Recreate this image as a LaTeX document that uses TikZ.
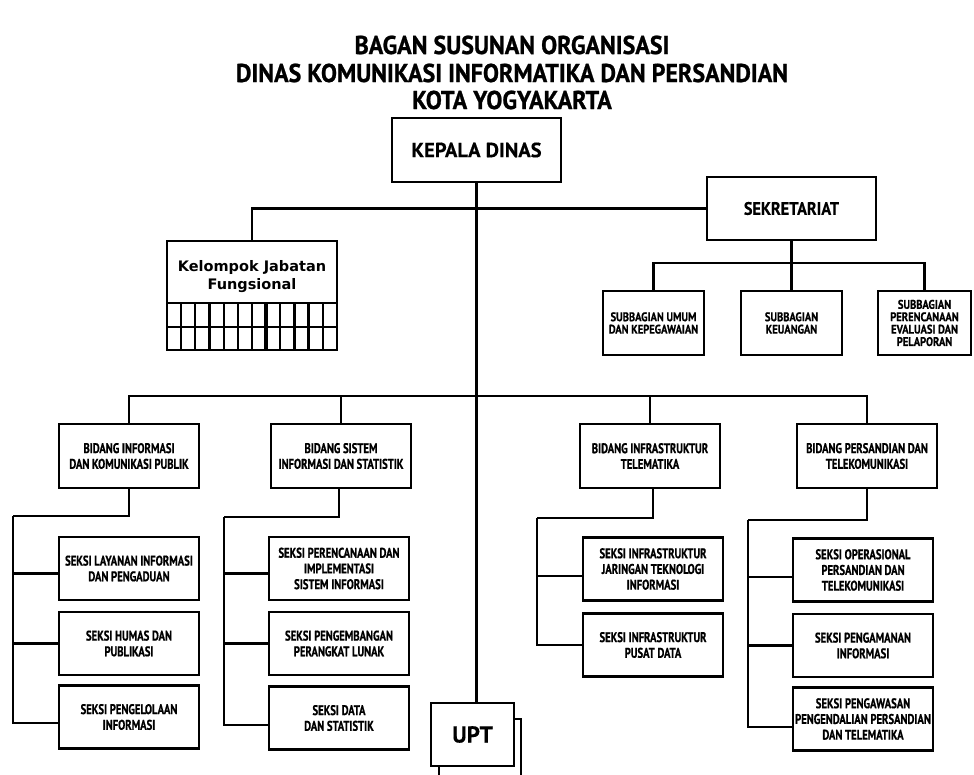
\documentclass[tikz,border=0pt]{standalone}
\usepackage{fontspec}
\setmainfont{PT Sans}[BoldFeatures={FakeBold=0.4}]
\newfontfamily\ptcond{PT Sans}[FakeStretch=0.76,BoldFeatures={FakeBold=0.7}]
\newfontfamily\ptsub{PT Sans}[FakeStretch=0.84,BoldFeatures={FakeBold=0.6}]
\newfontfamily\pttitle{PT Sans}[FakeStretch=0.93,BoldFeatures={FakeBold=0.9}]
\newfontfamily\ptsemi{PT Sans}[FakeStretch=0.9,BoldFeatures={FakeBold=0.4}]
\newfontfamily\dvsans{DejaVu Sans}
\newcommand\fSeksi{\ptcond\bfseries\fontsize{14}{15.7}\selectfont}
\newcommand\fSub{\ptsub\bfseries\fontsize{12.5}{12.4}\selectfont}
\newcommand\fTitle{\pttitle\bfseries\fontsize{25.8}{28}\selectfont}
\newcommand\fKepala{\bfseries\fontsize{20.5}{22}\selectfont}
\newcommand\fSek{\ptsemi\bfseries\fontsize{18}{20}\selectfont}
\newcommand\fUpt{\bfseries\fontsize{23}{26}\selectfont}
\newcommand\fKjf{\dvsans\bfseries\fontsize{14.5}{18}\selectfont}
\begin{document}
\begin{tikzpicture}[x=1pt,y=-1pt,line width=2.2pt,
  box/.style={draw,fill=white,rectangle,inner sep=0pt,align=center},
  bid/.style={box,minimum width=140pt,minimum height=64pt,font=\fSeksi},
  sek/.style={box,minimum width=140pt,minimum height=63pt,font=\fSeksi},
  sub/.style={box,minimum width=101pt,minimum height=64pt,font=\fSub},
  ttl/.style={inner sep=0pt,font=\fTitle}]
\useasboundingbox[fill=white] (0,0) rectangle (974,775);

% title
\node[ttl] (t1) at (512,45) {BAGAN SUSUNAN ORGANISASI};
\node[ttl] (t2) at (512,73) {DINAS KOMUNIKASI INFORMATIKA DAN PERSANDIAN};
\node[ttl] (t3) at (512,100) {KOTA YOGYAKARTA};

% UPT back box
\node[box,minimum width=82pt,minimum height=66pt] (uptb) at (480,752) {};

% top
\node[box,minimum width=169pt,minimum height=64pt,font=\fKepala] (kepala) at (476.5,150) {KEPALA DINAS};
\node[box,minimum width=169pt,minimum height=63pt,font=\fSek] (sekr) at (791.5,208.5) {SEKRETARIAT};
\node[box,minimum width=170pt,minimum height=109pt] (kjf) at (252,295.5) {};
\node[inner sep=0pt,align=center,font=\fKjf] (kjft) at (252,277) {Kelompok Jabatan\\Fungsional};

% subbagian
\node[sub] (sub1) at (653.5,323) {SUBBAGIAN UMUM\\DAN KEPEGAWAIAN};
\node[sub] (sub2) at (791.5,323) {SUBBAGIAN\\KEUANGAN};
\node[sub,minimum width=93pt] (sub3) at (924.5,323) {SUBBAGIAN\\PERENCANAAN\\EVALUASI DAN\\PELAPORAN};

% bidang
\node[bid] (b1) at (129,456) {BIDANG INFORMASI\\DAN KOMUNIKASI PUBLIK};
\node[bid] (b2) at (341,456) {BIDANG SISTEM\\INFORMASI DAN STATISTIK};
\node[bid] (b3) at (650,456) {BIDANG INFRASTRUKTUR\\TELEMATIKA};
\node[bid] (b4) at (867,456) {BIDANG PERSANDIAN DAN\\TELEKOMUNIKASI};

% seksi
\node[sek] (s11) at (129,568.5) {SEKSI LAYANAN INFORMASI\\DAN PENGADUAN};
\node[sek] (s12) at (129,643.5) {SEKSI HUMAS DAN\\PUBLIKASI};
\node[sek] (s13) at (129,717) {SEKSI PENGELOLAAN\\INFORMASI};
\node[sek] (s21) at (339,568.5) {SEKSI PERENCANAAN DAN\\IMPLEMENTASI\\SISTEM INFORMASI};
\node[sek] (s22) at (339,643.5) {SEKSI PENGEMBANGAN\\PERANGKAT LUNAK};
\node[sek] (s23) at (339,718) {SEKSI DATA\\DAN STATISTIK};
\node[sek] (s31) at (653,569) {SEKSI INFRASTRUKTUR\\JARINGAN TEKNOLOGI\\INFORMASI};
\node[sek] (s32) at (653,645) {SEKSI INFRASTRUKTUR\\PUSAT DATA};
\node[sek] (s41) at (863,570) {SEKSI OPERASIONAL\\PERSANDIAN DAN\\TELEKOMUNIKASI};
\node[sek] (s42) at (863,645.5) {SEKSI PENGAMANAN\\INFORMASI};
\node[sek] (s43) at (863,719) {SEKSI PENGAWASAN\\PENGENDALIAN PERSANDIAN\\DAN TELEMATIKA};

% UPT front
\node[box,minimum width=83pt,minimum height=63pt,font=\fUpt] (upt) at (472.5,734.5) {UPT};

% Kelompok grid
\foreach \i in {1,...,11}{
  \draw ({167+\i*170/12},303) -- ({167+\i*170/12},350);
}
\foreach \i in {3,7,10}{
  \draw[line width=3.6pt] ({167+\i*170/12},303) -- ({167+\i*170/12},350);
}
\draw (167,303) -- (337,303);
\draw (167,327) -- (337,327);

% joints
\coordinate (sj) at (791.5,263);
\coordinate (bj) at (478,396);
\coordinate (k1) at (13,516);
\coordinate (k2) at (224,517);
\coordinate (k3) at (537,518);
\coordinate (k4) at (748,520);

% connectors
\draw (kepala.south) -- (kepala.south |- upt.north);
\draw (kjf.north) |- (sekr.west);
\draw (sekr.south) -- (sj);
\draw (sub1.north) |- (sj) -| (sub3.north);
\draw (sj) -- (sub2.north);
\draw (b1.north) |- (bj) -| (b4.north);
\draw (b2.north) -- (b2.north |- bj);
\draw (b3.north) -- (b3.north |- bj);

\draw (b1.south) |- (k1);
\draw ([yshift=-5pt]s11.west) -| (k1);
\draw (s12.west) -| (k1);
\draw ([yshift=-6pt]s13.west) -| (k1);

\draw ([xshift=-2pt]b2.south) |- (k2);
\draw ([yshift=-5pt]s21.west) -| (k2);
\draw (s22.west) -| (k2);
\draw ([yshift=-7pt]s23.west) -| (k2);

\draw ([xshift=3pt]b3.south) |- (k3);
\draw ([yshift=-7pt]s31.west) -| (k3);
\draw (s32.west) -| (k3);

\draw (b4.south) |- (k4);
\draw ([yshift=-7pt]s41.west) -| (k4);
\draw (s42.west) -| (k4);
\draw ([yshift=-8pt]s43.west) -| (k4);
\end{tikzpicture}
\end{document}
